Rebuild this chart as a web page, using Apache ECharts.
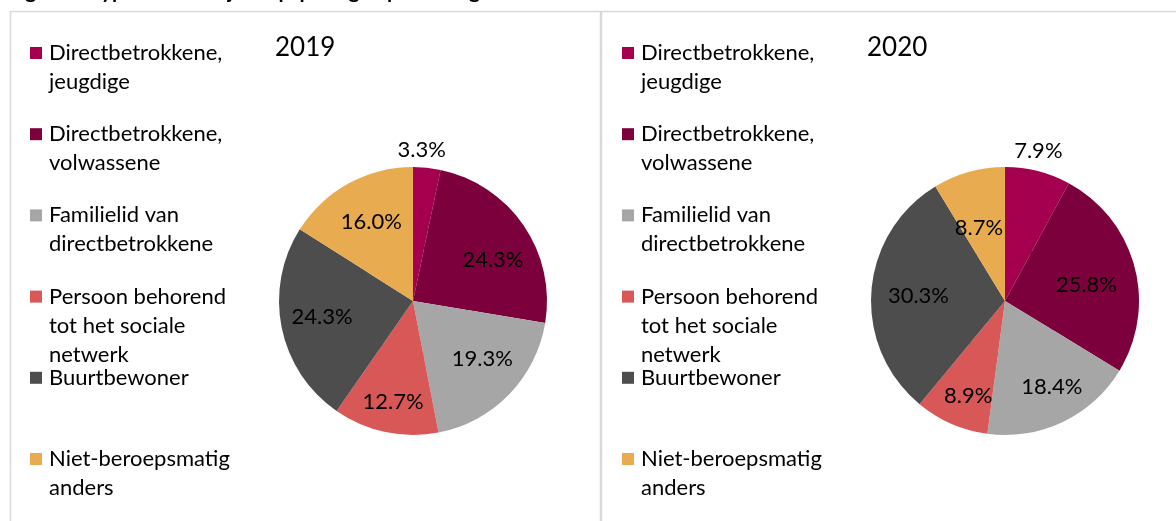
<!DOCTYPE html>
<html>
<head>
<meta charset="utf-8">
<script src="https://cdn.jsdelivr.net/npm/echarts@6/dist/echarts.min.js"></script>
<style>
html, body { margin: 0; padding: 0; background: #fff; }
#chart { width: 1176px; height: 521px; }
</style>
</head>
<body>
<div id="chart"></div>
<script>
// data
var categories = [
    'Directbetrokkene,\njeugdige',
    'Directbetrokkene,\nvolwassene',
    'Familielid van\ndirectbetrokkene',
    'Persoon behorend\ntot het sociale\nnetwerk',
    'Buurtbewoner',
    'Niet-beroepsmatig\nanders'
];
var years = ['2019', '2020'];
var values2019 = [3.3, 24.3, 19.3, 12.7, 24.3, 16.0];
var values2020 = [7.9, 25.8, 18.4, 8.9, 30.3, 8.7];
var figureTitle = 'Figuur 4 Type melder bij de opsporing in percentages in 2019 en 2020';

var colors = ['#a5004f', '#7b003b', '#a6a6a6', '#d85858', '#4d4d4d', '#e8ab4f'];
var FONT = 'Lato';
var FS = 22;

var chart = echarts.init(document.getElementById('chart'));

var R = 134;
var CY = 301;
// small label shifts, like Excel's best fit
var panels = [
    {x: 10, cx: 413, legendX: 30, titleX: 275, values: values2019,
     nudge: [[-12, 0], [0, 13], [0, -10], [0, 6], [4, -3], [5, 6]]},
    {x: 601, cx: 1005, legendX: 622, titleX: 867, values: values2020,
     nudge: [[-9, -3], [-12, 9], [5, -1], [2, 6], [10, 2], [0, 20]]}
];

// one legend per item; empty lines on top keep the square next to the first text line
function itemLegend(name, left, cy) {
    var lh = 29;
    var n = name.split('\n').length;
    var h = (2 * n - 1) * lh;
    return {
        left: left,
        top: cy - h / 2,
        padding: 0,
        itemGap: 0,
        itemWidth: 12,
        itemHeight: 12,
        icon: 'rect',
        selectedMode: false,
        formatter: function (s) { return new Array(n).join('\n') + s; },
        textStyle: {fontFamily: FONT, fontSize: FS, lineHeight: lh, color: '#000', padding: [0, 0, 0, 2]},
        data: [name]
    };
}

var legends = [];
var titles = [];
var series = [];
var graphics = [];

panels.forEach(function (p, k) {
    categories.forEach(function (c, i) {
        legends.push(itemLegend(c, p.legendX, 53 + i * 81.2));
    });
    titles.push({
        text: years[k],
        left: p.titleX,
        top: 35,
        padding: 0,
        textStyle: {fontFamily: FONT, fontSize: 26, fontWeight: 'normal', color: '#000'}
    });
    var data = categories.map(function (c, i) {
        var d = {name: c, value: p.values[i], itemStyle: {color: colors[i]}};
        if (i === 0) d.label = {position: 'outside'};
        return d;
    });
    // outer ring carries the labels (placed at ~0.7 r)
    series.push({
        type: 'pie',
        silent: true,
        center: [p.cx, CY],
        radius: [R * 0.4, R],
        startAngle: 90,
        clockwise: true,
        avoidLabelOverlap: false,
        label: {
            show: true,
            position: 'inside',
            fontFamily: FONT,
            fontSize: FS,
            color: '#000',
            formatter: function (q) { return q.value.toFixed(1) + '%'; }
        },
        labelLine: {show: false, length: 18, length2: 0},
        labelLayout: function (q) {
            var o = p.nudge[q.dataIndex];
            var res = {dx: o[0], dy: o[1]};
            if (q.dataIndex === 0) res.align = 'center';
            return res;
        },
        data: data
    });
    // inner fill of the pie
    series.push({
        type: 'pie',
        silent: true,
        center: [p.cx, CY],
        radius: [0, R * 0.42],
        startAngle: 90,
        clockwise: true,
        label: {show: false},
        labelLine: {show: false},
        data: data.map(function (d) { return {name: d.name, value: d.value, itemStyle: d.itemStyle}; })
    });
    graphics.push({
        type: 'rect',
        shape: {x: p.x + 0.5, y: 11.5, width: 590, height: 540},
        style: {fill: 'none', stroke: '#d9d9d9', lineWidth: 1.5},
        silent: true
    });
});

// figure caption, cut off at the top edge like in the source
graphics.push({
    type: 'text',
    x: 8,
    y: -19,
    style: {text: figureTitle, font: 'bold 21px ' + FONT, fill: '#000'},
    silent: true
});

chart.setOption({
    backgroundColor: '#fff',
    animation: false,
    color: colors,
    title: titles,
    legend: legends,
    graphic: graphics,
    series: series
});
</script>
</body>
</html>
